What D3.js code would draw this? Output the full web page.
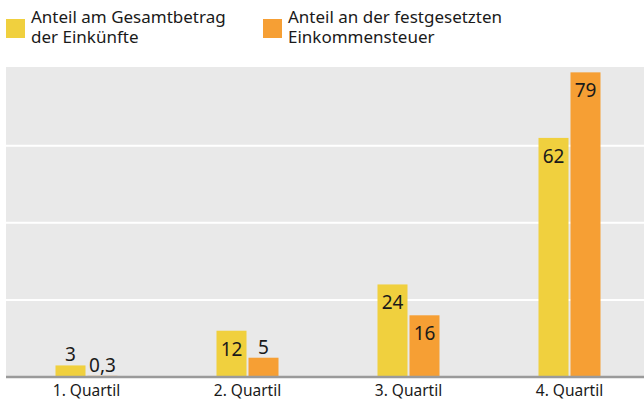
<!DOCTYPE html>
<html>
<head>
<meta charset="utf-8">
<script src="https://cdn.jsdelivr.net/npm/d3@7"></script>
<style>
  body { margin: 0; background: #fff; }
  svg { font-family: "Noto Sans", sans-serif; }
</style>
</head>
<body>
<svg class="root"></svg>
<script>
// data
var quartile = ["1. Quartil", "2. Quartil", "3. Quartil", "4. Quartil"];
var einkuenfte = [3, 12, 24, 62];
var steuer = [0.3, 5, 16, 79];
var seriesNames = [["Anteil am Gesamtbetrag", "der Einkünfte"], ["Anteil an der festgesetzten", "Einkommensteuer"]];
var colors = ["#f0d03e", "#f69f34"];
var yTicks = [0, 20, 40, 60, 80];

var width = 644, height = 400;
var plot = {left: 6, right: 644, top: 67, bottom: 377};

var svg = d3.select(".root")
    .attr("width", width)
    .attr("height", height);

var x = d3.scaleBand()
    .domain(quartile)
    .range([plot.left, 650]);

var y = d3.scaleLinear()
    .domain([0, 80])
    .range([plot.bottom, 68.5]);

// background
svg.append("rect")
  .attr("x", plot.left)
  .attr("y", plot.top)
  .attr("width", plot.right - plot.left)
  .attr("height", plot.bottom - plot.top)
  .attr("fill", "#e9e9e9");

// gridlines
svg.selectAll(".grid")
    .data(yTicks.filter((d) => d > 0 && d < 80))
  .enter().append("line")
    .attr("x1", plot.left)
    .attr("x2", plot.right)
    .attr("y1", (d) => y(d))
    .attr("y2", (d) => y(d))
    .attr("stroke", "#fff")
    .attr("stroke-width", 2);

var rows = quartile.map((q, i) => ({q: q, vals: [einkuenfte[i], steuer[i]]}));
var barW = 30, gap = 2;

var groups = svg.selectAll(".group")
    .data(rows)
  .enter().append("g")
    .attr("transform", (d) => "translate(" + (x(d.q) + x.bandwidth() / 2) + ",0)");

var bars = groups.selectAll(".bar")
    .data((d) => d.vals.map((v, j) => ({v: v, j: j})))
  .enter();

bars.append("rect")
    .attr("x", (d) => d.j === 0 ? -barW - gap / 2 : gap / 2)
    .attr("y", (d) => y(d.v))
    .attr("width", barW)
    .attr("height", (d) => plot.bottom - y(d.v))
    .attr("fill", (d) => colors[d.j]);

// value labels: inside tall bars, above short ones
bars.append("text")
    .attr("x", (d) => (d.j === 0 ? -barW - gap / 2 : gap / 2) + barW / 2)
    .attr("y", (d) => d.v >= 10 ? y(d.v) + 25 : y(d.v) - 4)
    .attr("text-anchor", "middle")
    .attr("font-size", 19)
    .attr("fill", "#1a1a1a")
    .text((d) => String(d.v).replace(".", ","));

// baseline
svg.append("line")
  .attr("x1", plot.left)
  .attr("x2", plot.right)
  .attr("y1", plot.bottom)
  .attr("y2", plot.bottom)
  .attr("stroke", "#9a9a9a")
  .attr("stroke-width", 2.5);

// x axis labels
svg.selectAll(".xlabel")
    .data(quartile)
  .enter().append("text")
    .attr("x", (d) => x(d) + x.bandwidth() / 2)
    .attr("y", 395.5)
    .attr("text-anchor", "middle")
    .attr("font-size", 15.5)
    .attr("fill", "#1a1a1a")
    .text((d) => d);

// legend
var legend = svg.selectAll(".legend")
    .data(seriesNames)
  .enter().append("g")
    .attr("transform", (d, i) => "translate(" + [6, 263][i] + ",0)");

legend.append("rect")
    .attr("y", 19)
    .attr("width", 19)
    .attr("height", 19)
    .attr("fill", (d, i) => colors[i]);

legend.append("text")
    .attr("x", 25)
    .attr("font-size", 17)
    .attr("fill", "#1a1a1a")
    .selectAll("tspan")
    .data((d) => d)
  .enter().append("tspan")
    .attr("x", 25)
    .attr("y", (d, k) => 23 + k * 20)
    .text((d) => d);
</script>
</body>
</html>
